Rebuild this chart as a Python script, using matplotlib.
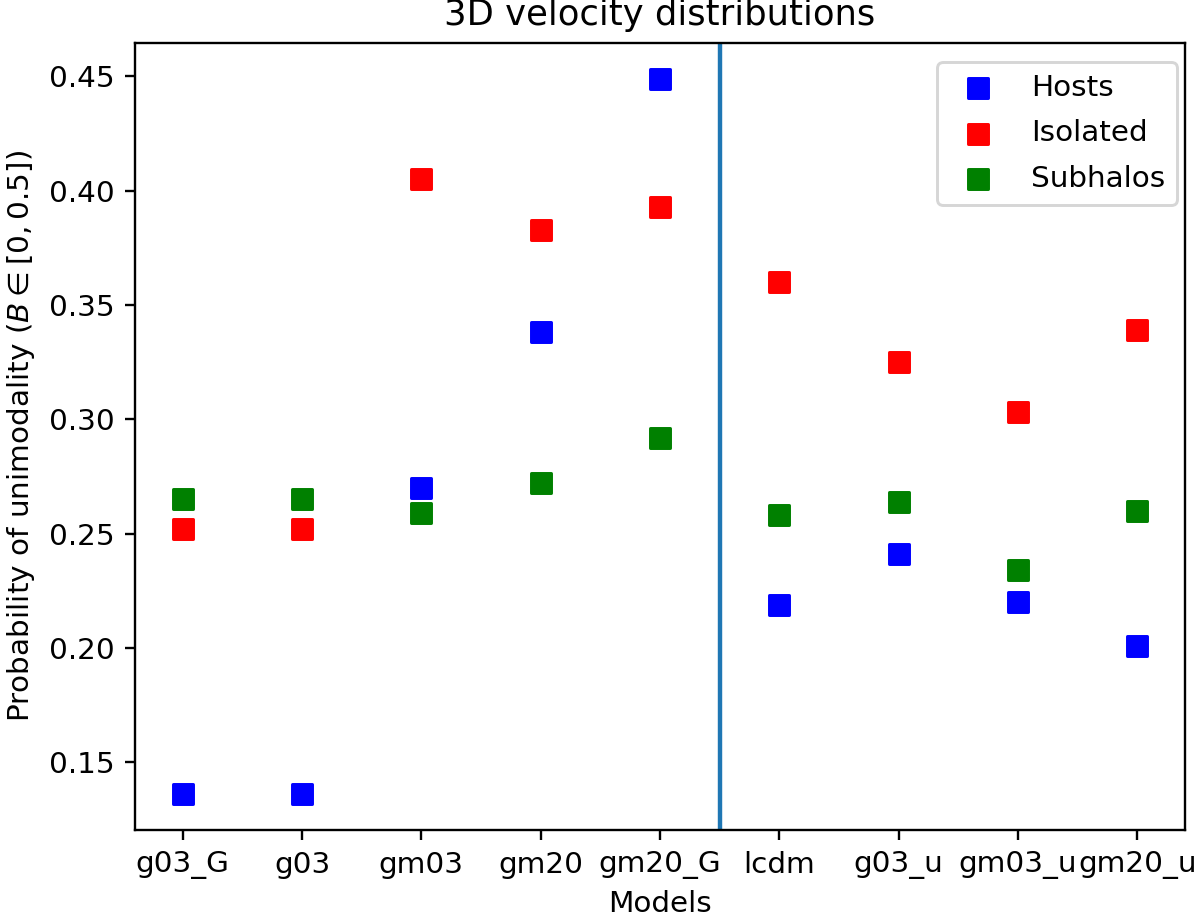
import matplotlib
matplotlib.use("Agg")
import matplotlib.pyplot as plt
import numpy as np

models = ["g03_G", "g03", "gm03", "gm20", "gm20_G", "lcdm", "g03_u", "gm03_u", "gm20_u"]
hosts = [0.136, 0.136, 0.270, 0.338, 0.449, 0.219, 0.241, 0.220, 0.201]
isolated = [0.252, 0.252, 0.405, 0.383, 0.393, 0.360, 0.325, 0.303, 0.339]
subhalos = [0.265, 0.265, 0.259, 0.272, 0.292, 0.258, 0.264, 0.234, 0.260]

dpi = 212
fig = plt.figure(figsize=(1200 / dpi, 917 / dpi), dpi=dpi)
ax = fig.add_axes([135 / 1200, 1 - 830 / 917, 1050 / 1200, 787 / 917])

x = np.arange(len(models))
ax.scatter(x, hosts, marker="s", s=46, color="blue", label="Hosts")
ax.scatter(x, isolated, marker="s", s=46, color="red", label="Isolated")
ax.scatter(x, subhalos, marker="s", s=46, color="green", label="Subhalos")
ax.axvline(4.5)

ax.set_xticks(x)
ax.set_xticklabels(models)
ax.set_xlabel("Models")
ax.set_ylabel(r"Probability of unimodality ($B \in [0, 0.5]$)")
ax.set_title("3D velocity distributions")
ax.legend(loc="upper right", bbox_to_anchor=(0.9924, 0.976), borderaxespad=0,
          labelspacing=0.6)

fig.savefig("out.png", dpi=dpi)
